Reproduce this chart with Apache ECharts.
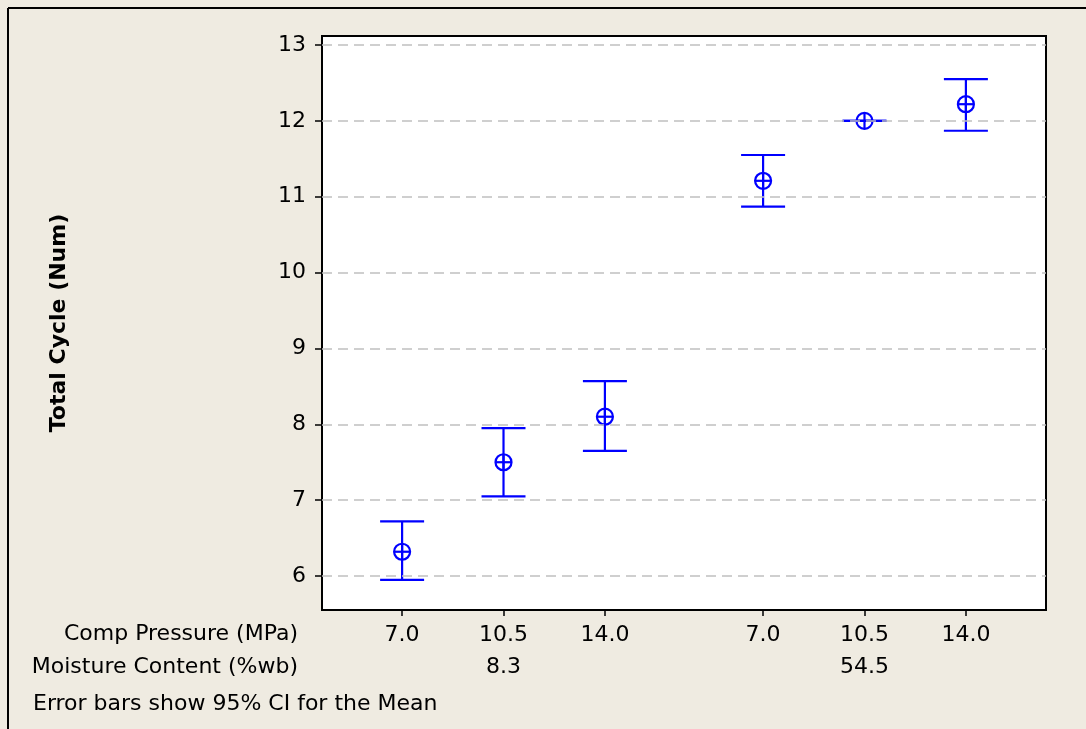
<!DOCTYPE html>
<html>
<head>
<meta charset="utf-8">
<title>Total Cycle — interval plot</title>
<script src="https://cdn.jsdelivr.net/npm/echarts@6/dist/echarts.min.js"></script>
<style>
  html, body { margin: 0; padding: 0; background: #EFEBE1; }
  #chart { width: 1086px; height: 729px; }
</style>
</head>
<body>
<div id="chart"></div>
<script>
// Factor levels
const pressureLabels = ['7.0', '10.5', '14.0', '7.0', '10.5', '14.0'];
const moistureLabels = ['8.3', '54.5'];
const groupOf = [0, 0, 0, 1, 1, 1];

// Mean total cycle and 95% CI bounds per cell
const means = [6.32, 7.50, 8.10, 11.21, 12.00, 12.22];
const upper = [6.72, 7.95, 8.57, 11.55, 12.00, 12.55];
const lower = [5.95, 7.05, 7.65, 10.87, 12.00, 11.87];

const yTicks = [6, 7, 8, 9, 10, 11, 12, 13];

// Layout of the category positions on the x scale
const GROUP_GAP = 0.56;   // extra space between moisture groups
const AXIS_PAD = 0.79;    // space before first / after last position
const xPos = means.map((_, i) => i + groupOf[i] * GROUP_GAP);
const groupCenters = moistureLabels.map((_, g) => {
  const xs = xPos.filter((_, i) => groupOf[i] === g);
  return (xs[0] + xs[xs.length - 1]) / 2;
});

const FONT = 'Tahoma, "DejaVu Sans", sans-serif';
const FS = 22;
const BLUE = '#0000FF';

const labelFor = (vals, labels) => v => {
  const k = vals.findIndex(p => Math.abs(p - v) < 1e-6);
  return k >= 0 ? labels[k] : '';
};

const chart = echarts.init(document.getElementById('chart'));

chart.setOption({
  backgroundColor: '#EFEBE1',
  animation: false,
  grid: {
    left: 322, top: 36, right: 40, bottom: 119,
    show: true, backgroundColor: '#FFFFFF',
    borderColor: '#000000', borderWidth: 2
  },
  xAxis: [
    {
      type: 'value',
      min: xPos[0] - AXIS_PAD,
      max: xPos[xPos.length - 1] + AXIS_PAD,
      axisLine: { show: true, onZero: false, lineStyle: { color: '#000', width: 2 } },
      axisTick: { show: true, length: 6, customValues: xPos, lineStyle: { color: '#000', width: 1.5 } },
      axisLabel: {
        customValues: xPos, margin: 14,
        formatter: labelFor(xPos, pressureLabels),
        fontFamily: FONT, fontSize: FS, color: '#000'
      },
      splitLine: { show: false }
    },
    {
      type: 'value',
      position: 'bottom',
      min: xPos[0] - AXIS_PAD,
      max: xPos[xPos.length - 1] + AXIS_PAD,
      axisLine: { show: false, onZero: false },
      axisTick: { show: false },
      axisLabel: {
        customValues: groupCenters, margin: 46,
        formatter: labelFor(groupCenters, moistureLabels),
        fontFamily: FONT, fontSize: FS, color: '#000'
      },
      splitLine: { show: false }
    }
  ],
  yAxis: {
    type: 'value',
    min: 5.552, max: 13.119,
    name: 'Total Cycle (Num)',
    nameLocation: 'middle',
    nameGap: 252,
    nameTextStyle: { fontFamily: FONT, fontSize: FS, fontWeight: 'bold', color: '#000' },
    axisLine: { show: true, onZero: false, lineStyle: { color: '#000', width: 2 } },
    axisTick: { show: true, length: 7, customValues: yTicks, lineStyle: { color: '#000', width: 1.5 } },
    axisLabel: {
      customValues: yTicks, margin: 16,
      fontFamily: FONT, fontSize: FS, color: '#000'
    },
    splitLine: { show: false }
  },
  graphic: [
    { type: 'line', shape: { x1: 8, y1: 8, x2: 1086, y2: 8 }, style: { stroke: '#000', lineWidth: 2 } },
    { type: 'line', shape: { x1: 8, y1: 8, x2: 8, y2: 729 }, style: { stroke: '#000', lineWidth: 2 } },
    { type: 'text', right: 1086 - 298, top: 623,
      style: { text: 'Comp Pressure (MPa)', font: FS + 'px ' + FONT, fill: '#000', textAlign: 'right' } },
    { type: 'text', right: 1086 - 298, top: 656,
      style: { text: 'Moisture Content (%wb)', font: FS + 'px ' + FONT, fill: '#000', textAlign: 'right' } },
    { type: 'text', left: 33, top: 693,
      style: { text: 'Error bars show 95% CI for the Mean', font: FS + 'px ' + FONT, fill: '#000' } }
  ],
  series: [
    {
      // dashed reference lines at each y tick
      type: 'line',
      data: [],
      z: 1,
      silent: true,
      markLine: {
        silent: true,
        symbol: 'none',
        label: { show: false },
        lineStyle: { color: '#C0C0C0', type: [10, 6], width: 1.5 },
        data: yTicks.map(v => ({ yAxis: v }))
      }
    },
    {
      type: 'custom',
      z: 3,
      data: means.map((m, i) => [xPos[i], m, upper[i], lower[i]]),
      renderItem: function (params, api) {
        const x = api.value(0);
        const c = api.coord([x, api.value(1)]);
        const hi = api.coord([x, api.value(2)]);
        const lo = api.coord([x, api.value(3)]);
        const cap = 22, r = 8;
        const st = { stroke: BLUE, lineWidth: 2.2, fill: null };
        return {
          type: 'group',
          children: [
            { type: 'line', shape: { x1: hi[0], y1: hi[1], x2: lo[0], y2: lo[1] }, style: st },
            { type: 'line', shape: { x1: hi[0] - cap, y1: hi[1], x2: hi[0] + cap, y2: hi[1] }, style: st },
            { type: 'line', shape: { x1: lo[0] - cap, y1: lo[1], x2: lo[0] + cap, y2: lo[1] }, style: st },
            { type: 'circle', shape: { cx: c[0], cy: c[1], r: r }, style: { stroke: BLUE, lineWidth: 2.2, fill: 'rgba(255,255,255,0)' } },
            { type: 'line', shape: { x1: c[0] - r, y1: c[1], x2: c[0] + r, y2: c[1] }, style: st },
            { type: 'line', shape: { x1: c[0], y1: c[1] - r, x2: c[0], y2: c[1] + r }, style: st }
          ]
        };
      }
    }
  ]
});
</script>
</body>
</html>
